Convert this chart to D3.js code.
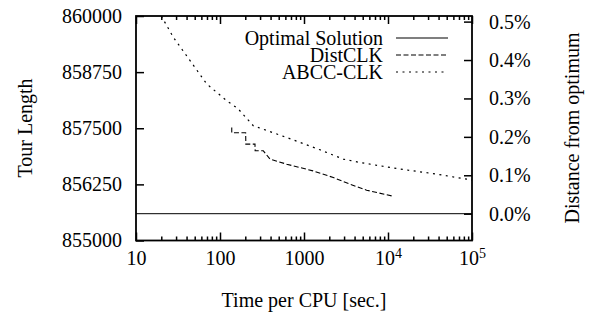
<!DOCTYPE html>
<html>
<head>
<meta charset="utf-8">
<script src="https://cdn.jsdelivr.net/npm/d3@7"></script>
<style>
  body { margin: 0; background: #fff; }
  svg text { font-family: "Liberation Serif", "Times New Roman", serif !important; font-size: 20px; fill: #000; }
  svg text.sup { font-size: 14px; }
</style>
</head>
<body>
<div id="chart"></div>
<script>
// values
const xTicks = [10, 100, 1000, 1e4, 1e5];
const yTicks = [855000, 856250, 857500, 858750, 860000];
const pctTicks = [0, 0.1, 0.2, 0.3, 0.4, 0.5];
const optimum = 855597;

const abccTime = [20, 27.8, 44, 69.5, 120, 164, 249, 622, 1549, 2937, 4645, 12700, 20000, 38000, 87000, 100000];
const abccLen = [860000, 859527, 859007, 858487, 858114, 857935, 857556, 857295, 857020, 856813, 856737, 856603, 856551, 856478, 856366, 856345];

const distTime = [138, 138, 202, 203, 261, 262, 328, 394, 622, 1280, 2234, 3530, 5570, 11070];
const distLen = [857518, 857400, 857400, 857147, 857147, 856998, 856998, 856813, 856700, 856551, 856402, 856254, 856121, 855993];

const seriesNames = ['Optimal Solution', 'DistCLK', 'ABCC-CLK'];
const dashes = [null, '5,2.5', '2,4.5'];

const W = 594, H = 320;
const margin = {left: 136, top: 16, right: 122, bottom: 80};
const width = W - margin.left - margin.right;
const height = H - margin.top - margin.bottom + 0.5;

const svg = d3.select('#chart').append('svg')
  .attr('width', W).attr('height', H);
const chart = svg.append('g')
  .attr('transform', `translate(${margin.left},${margin.top})`);

const x = d3.scaleLog().domain([10, 1e5]).range([0, width]);
const y = d3.scaleLinear().domain([855000, 860000]).range([height, 0]);
const yPct = d3.scaleLinear()
  .domain([(855000 / optimum - 1) * 100, (860000 / optimum - 1) * 100])
  .range([height, 0]);

const minorX = [];
[10, 100, 1000, 1e4].forEach(d => { for (let k = 2; k <= 9; k++) minorX.push(d * k); });

chart.append('clipPath').attr('id', 'clip')
  .append('rect').attr('width', width).attr('height', height);

// axes, ticks pointing inward
const bottom = chart.append('g').attr('transform', `translate(0,${height})`)
  .call(d3.axisBottom(x).tickValues(xTicks).tickSize(-8).tickPadding(10)
    .tickFormat(d => d >= 1e4 ? '10' : String(d)));
bottom.selectAll('text').filter(d => d >= 1e4)
  .append('tspan').attr('class', 'sup').attr('dy', '-0.45em').style('font-size', '14px')
  .text(d => Math.round(Math.log10(d)));
chart.append('g').attr('transform', `translate(0,${height})`)
  .call(d3.axisBottom(x).tickValues(minorX).tickSize(-4).tickFormat(''));
chart.append('g')
  .call(d3.axisTop(x).tickValues(xTicks).tickSize(-8).tickFormat(''));
chart.append('g')
  .call(d3.axisTop(x).tickValues(minorX).tickSize(-4).tickFormat(''));
chart.append('g')
  .call(d3.axisLeft(y).tickValues(yTicks).tickSize(-8).tickPadding(14).tickFormat(d3.format('d')));
chart.append('g').attr('transform', `translate(${width},0)`)
  .call(d3.axisRight(yPct).tickValues(pctTicks).tickSize(-8).tickPadding(17)
    .tickFormat(d => d.toFixed(1) + '%'));

chart.selectAll('g').attr('font-family', null).attr('font-size', null);
chart.selectAll('.domain').remove();
chart.selectAll('.tick line').attr('stroke', '#000').attr('stroke-width', 1.5);
chart.selectAll('.tick text').attr('fill', '#000');

chart.append('rect')
  .attr('width', width).attr('height', height)
  .attr('fill', 'none').attr('stroke', '#000').attr('stroke-width', 1.8);

// data lines
const plot = chart.append('g').attr('clip-path', 'url(#clip)');
const line = d3.line().x(d => x(d[0])).y(d => y(d[1]));

plot.append('line')
  .attr('x1', 0).attr('x2', width)
  .attr('y1', y(optimum)).attr('y2', y(optimum))
  .attr('stroke', '#000').attr('stroke-width', 1);

plot.append('path')
  .datum(d3.zip(distTime, distLen))
  .attr('d', line).attr('fill', 'none').attr('stroke', '#000')
  .attr('stroke-width', 1.1).attr('stroke-dasharray', dashes[1]);

plot.append('path')
  .datum(d3.zip(abccTime, abccLen))
  .attr('d', line).attr('fill', 'none').attr('stroke', '#000')
  .attr('stroke-width', 1.2).attr('stroke-dasharray', dashes[2]);

// legend
const legend = chart.append('g').attr('class', 'legend')
  .attr('transform', `translate(${width - 89},${22})`);
seriesNames.forEach((name, i) => {
  const g = legend.append('g').attr('transform', `translate(0,${i * 17})`);
  g.append('text').attr('x', 0).attr('y', 0).attr('dy', '0.35em')
    .attr('text-anchor', 'end').text(name);
  g.append('line').attr('x1', 13).attr('x2', 65).attr('y1', 0).attr('y2', 0)
    .attr('stroke', '#000').attr('stroke-width', 1.1)
    .attr('stroke-dasharray', dashes[i]);
});

// axis titles
svg.append('text')
  .attr('transform', `translate(25,128) rotate(-90)`)
  .attr('text-anchor', 'middle').attr('dy', '0.35em')
  .text('Tour Length');
svg.append('text')
  .attr('transform', `translate(572,128) rotate(-90)`)
  .attr('text-anchor', 'middle').attr('dy', '0.35em')
  .text('Distance from optimum');
svg.append('text')
  .attr('x', 304).attr('y', 300).attr('dy', '0.35em')
  .attr('text-anchor', 'middle')
  .text('Time per CPU [sec.]');
</script>
</body>
</html>
